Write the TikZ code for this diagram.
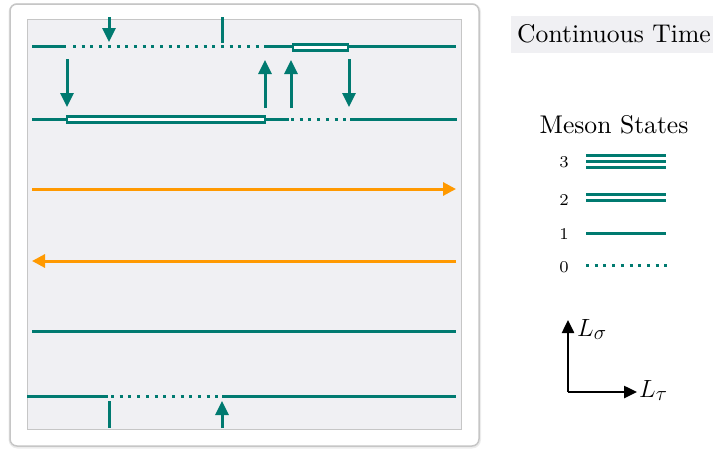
\documentclass[tikz,border=0pt]{standalone}
\usepackage{fontspec}
\newfontfamily\tenfont{lmroman10-regular}[Extension=.otf]
\newfontfamily\sixfont{lmroman7-regular}[Extension=.otf]
\usetikzlibrary{arrows.meta}
\definecolor{tealc}{RGB}{0,122,112}
\definecolor{orangec}{RGB}{255,153,0}
\definecolor{panelc}{RGB}{240,240,243}
\tikzset{
  stateone/.style={tealc, line width=3pt},
  statezero/.style={tealc, line width=3pt, dash pattern=on 3pt off 5.7pt},
  statetwo/.style={tealc, line width=2.9pt, fill=white},
  thin2/.style={tealc, line width=3pt},
  hop/.style={tealc, line width=3pt, -{Triangle[length=14pt,width=13pt]}},
  flow/.style={orangec, line width=3pt, -{Triangle[length=13pt,width=13pt]}},
  axisarr/.style={black, line width=2.5pt, -{Triangle[length=13pt,width=12pt]}},
  bigtxt/.style={font=\tenfont\fontsize{25.6}{31}\selectfont, inner sep=0pt},
  mathtxt/.style={font=\fontsize{27.7}{33}\selectfont, inner sep=0pt},
  smalltxt/.style={font=\sixfont\fontsize{16.5}{20}\selectfont, inner sep=0pt}
}
\begin{document}
\begin{tikzpicture}[x=1pt,y=-1pt]
\useasboundingbox (0,0) rectangle (713,448);
% outer frame with soft shadow
\draw[gray!15, line width=4pt, rounded corners=7pt] (10.5,5) rectangle (479,446.5);
\draw[gray!45, line width=1.5pt, rounded corners=7pt, fill=white] (10,4) rectangle (479,446);
% panel
\draw[gray!45, line width=1pt, fill=panelc] (27,19) rectangle (461,429);

% row 1
\draw[stateone] (32,46) -- (66,46);
\draw[statezero] (73,46) -- (266,46);
\draw[stateone] (265,46) -- (293,46);
\draw[statetwo] (293,44.7) rectangle (348,50.3);
\draw[stateone] (349,46) -- (456,46);
\draw[hop] (109,17) -- (109,42);
\draw[stateone] (222,17) -- (222,43);

% hops between row 1 and row 2
\draw[hop] (67,59) -- (67,107);
\draw[hop] (265,108) -- (265,60);
\draw[hop] (291,108) -- (291,60);
\draw[hop] (349,59) -- (349,107);

% row 2
\draw[stateone] (32,119) -- (67,119);
\draw[statetwo] (67,116.7) rectangle (265,122.8);
\draw[stateone] (265,119) -- (289,119);
\draw[statezero] (291,119) -- (349,119);
\draw[stateone] (350,119) -- (457,119);

% rows 3, 4
\draw[flow] (32,189) -- (456,189);
\draw[flow] (456,261) -- (32,261);

% row 5
\draw[stateone] (32,331) -- (456,331);

% row 6
\draw[stateone] (27,396) -- (108,396);
\draw[statezero] (111,396) -- (222,396);
\draw[stateone] (222,396) -- (456,396);
\draw[stateone] (109,401) -- (109,428);
\draw[hop] (222,428) -- (222,401);

% legend
\fill[panelc] (511,16) rectangle (713,53);
\node[bigtxt, anchor=base] (ct) at (614,42) {Continuous Time};
\node[bigtxt, anchor=base] (ms) at (614,133) {Meson States};
\node[smalltxt, anchor=base] (l3) at (564,167.5) {3};
\node[smalltxt, anchor=base] (l2) at (564,205.5) {2};
\node[smalltxt, anchor=base] (l1) at (564,239) {1};
\node[smalltxt, anchor=base] (l0) at (564,272.5) {0};
\draw[thin2] (586,155) -- (666,155);
\draw[thin2] (586,161.2) -- (666,161.2);
\draw[thin2] (586,167.4) -- (666,167.4);
\draw[thin2] (586,194) -- (666,194);
\draw[thin2] (586,200.3) -- (666,200.3);
\draw[stateone] (586,233) -- (666,233);
\draw[statezero] (586,265) -- (668,265);

% axes
\coordinate (o) at (568,392);
\coordinate (ys) at (568,320);
\coordinate (xt) at (637,392);
\draw[axisarr] (o) -- (ys);
\draw[axisarr] (o) -- (xt);
\node[mathtxt, anchor=base west] (ls) at (577,336) {$L_\sigma$};
\node[mathtxt, anchor=base west] (lt) at (639,397) {$L_\tau$};
\end{tikzpicture}
\end{document}
